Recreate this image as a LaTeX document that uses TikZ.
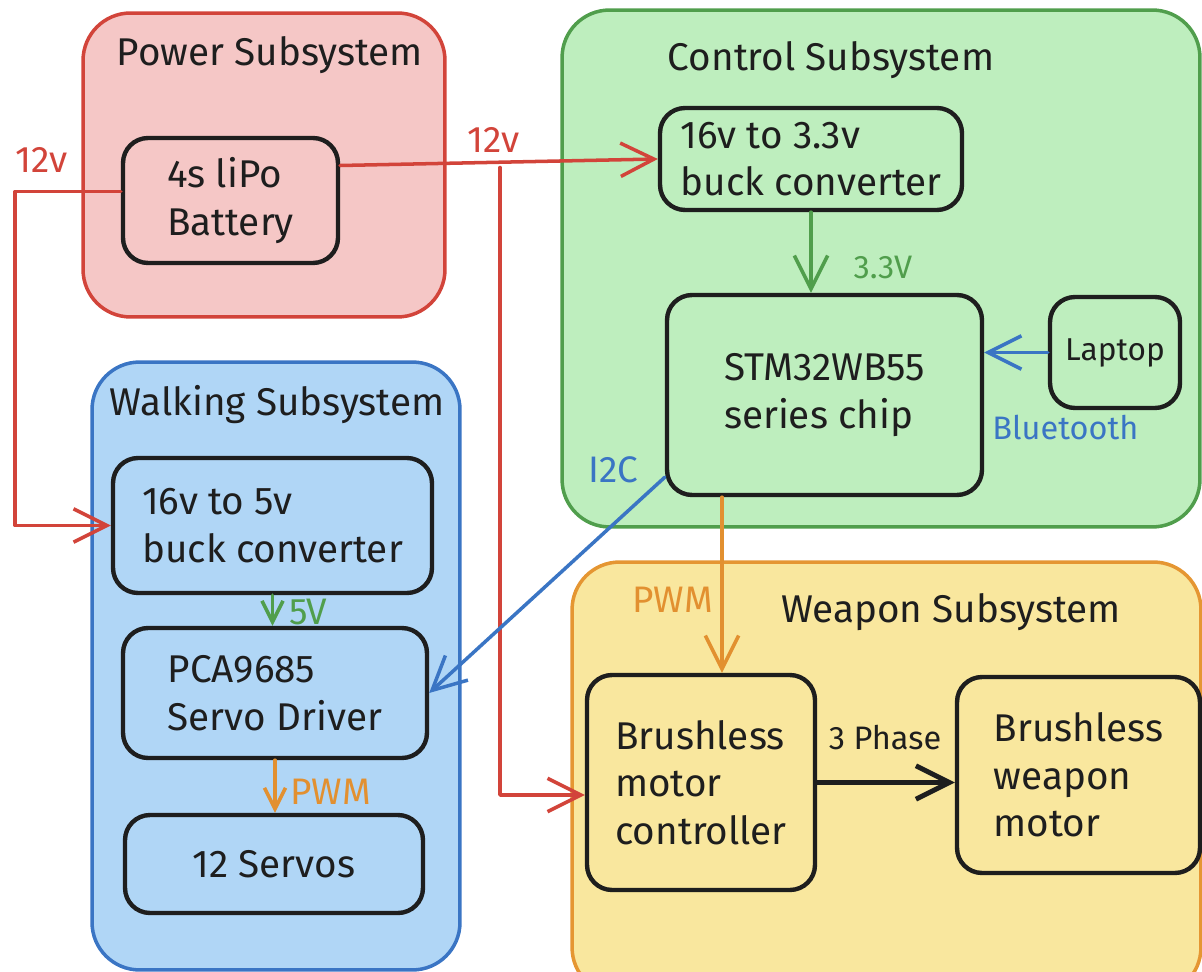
\documentclass[tikz,border=0pt]{standalone}
\usepackage{fontspec}
\setmainfont{Fira Sans}
\usetikzlibrary{arrows.meta}
\definecolor{ink}{RGB}{30,30,30}
\definecolor{redS}{RGB}{210,68,58}
\definecolor{redF}{RGB}{245,199,198}
\definecolor{grnS}{RGB}{80,158,76}
\definecolor{grnF}{RGB}{190,238,190}
\definecolor{bluS}{RGB}{58,117,196}
\definecolor{bluF}{RGB}{176,214,246}
\definecolor{ylwS}{RGB}{229,150,50}
\definecolor{ylwF}{RGB}{249,231,158}
\definecolor{orn}{RGB}{226,144,48}
\tikzset{
  container/.style={draw, line width=2pt, rounded corners=0.95cm, inner sep=0pt},
  box/.style={draw=ink, line width=2.5pt, rounded corners=0.5cm, align=left, inner sep=0pt,
    font=\fontsize{22}{27}\selectfont, text=ink},
  title/.style={inner sep=0pt, font=\fontsize{22}{26}\selectfont, text=ink},
  lbl/.style={inner sep=0pt, font=\fontsize{18.5}{22}\selectfont},
  biglbl/.style={inner sep=0pt, font=\fontsize{21}{24}\selectfont},
  wire/.style={line width=2pt, line cap=round, line join=round},
  tip/.style={-{Straight Barb[length=19pt,width=19pt]}},
  smalltip/.style={-{Straight Barb[length=12pt,width=12pt]}}
}
\begin{document}
\begin{tikzpicture}[x=0.02cm,y=-0.02cm]
\useasboundingbox (0,0) rectangle (1202,972);
\clip (0,0) rectangle (1202,972);

% containers
\node[container, draw=redS, fill=redF, minimum width=7.24cm, minimum height=6.08cm] (pow) at (264,165) {};
\node[container, draw=grnS, fill=grnF, minimum width=12.76cm, minimum height=10.34cm] (ctl) at (881,268.5) {};
\node[container, draw=bluS, fill=bluF, minimum width=7.36cm, minimum height=12.16cm] (walk) at (276,666) {};
\node[container, draw=ylwS, fill=ylwF, minimum width=12.58cm, minimum height=8.66cm] (weap) at (886.5,778.5) {};

% titles
\node[title] (tpow) at (270,55) {Power Subsystem};
\node[title] (tctl) at (831,60) {Control Subsystem};
\node[title] (twalk) at (277,405) {Walking Subsystem};
\node[title] (tweap) at (951,612) {Weapon Subsystem};

% boxes
\node[box, minimum width=4.30cm, minimum height=2.50cm] (bat) at (230.5,200.5) {4s liPo\\Battery};
\node[box, minimum width=6.04cm, minimum height=2.04cm] (cb) at (811,159) {16v to 3.3v\\buck converter};
\node[box, minimum width=6.30cm, minimum height=4.00cm] (stm) at (824.5,395) {STM32WB55\\series chip};
\node[box, minimum width=2.60cm, minimum height=2.22cm, font=\fontsize{18}{21}\selectfont] (lap) at (1115,352.5) {Laptop};
\node[box, minimum width=6.38cm, minimum height=2.70cm] (b5) at (272.5,525.5) {16v to 5v\\buck converter};
\node[box, minimum width=6.08cm, minimum height=2.60cm] (pca) at (275,693) {PCA9685\\Servo Driver};
\node[box, minimum width=5.96cm, minimum height=1.96cm] (srv) at (274,864) {12 Servos};
\node[box, minimum width=4.56cm, minimum height=4.30cm] (bmc) at (701,782.5) {Brushless\\motor\\controller};
\node[box, minimum width=4.86cm, minimum height=3.92cm] (bwm) at (1078.5,775) {Brushless\\weapon\\motor};

% helper coordinates
\coordinate (lx) at (15,0);
\coordinate (rx) at (500,0);
\coordinate (ox) at (722,0);
\coordinate (batL) at ([yshift=0.18cm]bat.west);
\coordinate (batR) at ([yshift=0.7cm]bat.east);
\coordinate (rj) at ([yshift=0.66cm]bat.east -| rx);
\coordinate (bmcIn) at ([yshift=-0.25cm]bmc.west);
\coordinate (stmOut) at ([yshift=0.4cm]stm.south west);

% red power wires
\draw[wire, redS, tip] (batL) -- (batL -| lx) -- (lx |- b5.west) -- (b5.west);
\draw[wire, redS, tip] (batR) -- (cb.west);
\draw[wire, redS, tip] (rj) -- (rj |- bmcIn) -- (bmcIn);

% control wires
\draw[wire, grnS, tip] (cb.south) -- (cb.south |- stm.north);
\draw[wire, bluS, tip] (lap.west) -- (lap.west -| stm.east);
\draw[wire, bluS, tip] (stmOut) -- (pca.east);
\draw[wire, orn, tip] (stm.south -| ox) -- (bmc.north -| ox);

% walking wires
\draw[wire, grnS, smalltip] (b5.south) -- (b5.south |- pca.north);
\draw[wire, orn, smalltip] (pca.south) -- (pca.south |- srv.north);

% weapon wire
\draw[wire, ink, line width=2.8pt, tip] (bmc.east) -- (bmc.east -| bwm.west);

% labels
\node[biglbl, text=redS] (l12a) at (42,160) {12v};
\node[biglbl, text=redS] (l12b) at (494,140) {12v};
\node[lbl, text=grnS] (l33) at (883,268) {3.3V};
\node[lbl, text=bluS, anchor=west] (lbt) at (992,428) {Bluetooth};
\node[biglbl, text=bluS] (li2c) at (613,470) {I2C};
\node[biglbl, text=orn] (lpwm1) at (673,600) {PWM};
\node[biglbl, text=grnS] (l5v) at (308,612) {5V};
\node[biglbl, text=orn] (lpwm2) at (331,792) {PWM};
\node[lbl, text=ink] (l3p) at (885,738) {3 Phase};
\end{tikzpicture}
\end{document}
